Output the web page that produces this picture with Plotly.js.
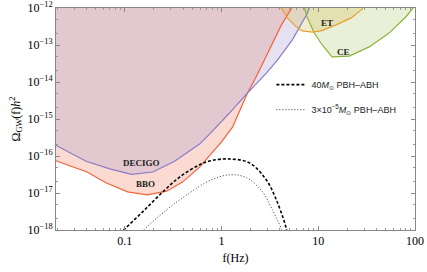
<!DOCTYPE html>
<html>
<head>
<meta charset="utf-8">
<script src="https://cdn.plot.ly/plotly-3.0.1.min.js"></script>
<style>html,body{margin:0;padding:0;background:#fff;}#chart{width:427px;height:272px;}</style>
</head>
<body>
<div id="chart"></div>
<script>
// Sensitivity curves (frequency in Hz, Omega_GW h^2)
var decigoF = [0.0178, 0.0200, 0.0398, 0.070, 0.117, 0.195, 0.327, 0.593, 0.752, 1.21, 1.85, 2.91, 3.78, 5.40, 7.71, 8.32];
var decigoOmega = [2.19e-16, 1.86e-16, 7.2e-17, 4.5e-17, 3.2e-17, 3.7e-17, 7.2e-17, 2.1e-16, 3.9e-16, 1.45e-15, 5.0e-15, 1.74e-14, 3.9e-14, 1.38e-13, 7.2e-13, 1.26e-12];

var bboF = [0.0178, 0.0200, 0.0407, 0.0646, 0.107, 0.170, 0.271, 0.398, 0.593, 0.807, 1.0, 1.30, 1.85, 2.29, 2.77, 4.16, 5.40, 5.75];
var bboOmega = [8.5e-17, 7.2e-17, 3.7e-17, 1.86e-17, 1.07e-17, 8.9e-18, 1.12e-17, 2.0e-17, 5.0e-17, 1.26e-16, 2.4e-16, 6.0e-16, 5.0e-15, 1.4e-14, 4.0e-14, 3.5e-13, 1.07e-12, 1.4e-12];

var etF = [3.98, 4.16, 4.79, 5.93, 6.84, 8.67, 10.7, 15.3, 21.9, 28.4, 30.2];
var etOmega = [1.26e-12, 1.0e-12, 5.4e-13, 3.1e-13, 2.4e-13, 2.24e-13, 2.4e-13, 3.5e-13, 5.4e-13, 9.3e-13, 1.26e-12];

var ceF = [7.08, 7.18, 7.71, 9.10, 11.0, 13.9, 20.9, 33.6, 54.0, 80.7, 95.5, 105];
var ceOmega = [1.26e-12, 1.0e-12, 5.4e-13, 2.1e-13, 1.0e-13, 4.8e-14, 5.0e-14, 8.9e-14, 2.1e-13, 5.8e-13, 1.0e-12, 1.26e-12];

// PBH-ABH signals
var pbh40F = [0.089, 0.100, 0.153, 0.247, 0.369, 0.593, 0.80, 1.21, 1.95, 2.91, 3.69, 4.46, 4.68, 4.79];
var pbh40Omega = [7.9e-19, 1.07e-18, 3.1e-18, 1.07e-17, 2.7e-17, 5.8e-17, 7.6e-17, 8.3e-17, 6.5e-17, 2.24e-17, 6.5e-18, 1.66e-18, 1.07e-18, 7.9e-19];

var pbhSmallF = [0.151, 0.161, 0.271, 0.437, 0.776, 1.21, 1.81, 2.65, 3.36, 4.16, 4.27];
var pbhSmallOmega = [8.9e-19, 1.07e-18, 3.5e-18, 8.9e-18, 2.24e-17, 3.1e-17, 2.6e-17, 1.07e-17, 3.5e-18, 1.07e-18, 8.9e-19];

var xTickVals = [0.1, 1, 10, 100];
var xTickText = ['0.1', '1', '10', '100'];
var yTickVals = [1e-18, 1e-17, 1e-16, 1e-15, 1e-14, 1e-13, 1e-12];
var yTickText = ['10<sup>\u221218</sup>', '10<sup>\u221217</sup>', '10<sup>\u221216</sup>', '10<sup>\u221215</sup>', '10<sup>\u221214</sup>', '10<sup>\u221213</sup>', '10<sup>\u221212</sup>'];

// Region closure just outside the visible area (top / left), so the shading reaches the frame
var OUT_TOP = 1.5e-12, OUT_LEFT = 0.017;
function closeTop(f, o, withLeft) {
  var xs = f.slice(), ys = o.slice();
  xs.push(f[f.length - 1]); ys.push(OUT_TOP);
  if (withLeft) {
    xs.push(OUT_LEFT); ys.push(OUT_TOP);
    xs.push(OUT_LEFT); ys.push(o[0]);
  } else {
    xs.push(f[0]); ys.push(OUT_TOP);
  }
  xs.push(f[0]); ys.push(o[0]);
  return {x: xs, y: ys};
}

var bbo = closeTop(bboF, bboOmega, true);
var dec = closeTop(decigoF, decigoOmega, true);
var et = closeTop(etF, etOmega, false);
var ce = closeTop(ceF, ceOmega, false);

function fillTrace(p, color) {
  return {x: p.x, y: p.y, mode: 'none', fill: 'toself', fillcolor: color, showlegend: false, hoverinfo: 'skip'};
}
function edgeTrace(f, o, color) {
  return {x: f, y: o, mode: 'lines', line: {color: color, width: 1.2}, showlegend: false, hoverinfo: 'skip'};
}

var traces = [
  fillTrace(bbo, 'rgba(240,110,70,0.25)'),
  fillTrace(dec, 'rgba(171,156,206,0.3)'),
  fillTrace(ce, 'rgba(140,180,60,0.2)'),
  fillTrace(et, 'rgba(210,180,60,0.25)'),
  edgeTrace(bboF, bboOmega, '#f0643c'),
  edgeTrace(decigoF, decigoOmega, '#8a7cc8'),
  edgeTrace(ceF, ceOmega, '#8cb43c'),
  edgeTrace(etF, etOmega, '#e8a030'),
  {x: pbh40F, y: pbh40Omega, mode: 'lines', name: '40<i>M</i><sub>\u2299</sub> PBH\u2013ABH',
   line: {color: '#000', width: 1.6, dash: '3px,2px', shape: 'spline'}, legendgroup: 'a'},
  {x: pbhSmallF, y: pbhSmallOmega, mode: 'lines', name: '3\u00d710<sup>\u22125</sup><i>M</i><sub>\u2299</sub> PBH\u2013ABH',
   line: {color: '#333', width: 1, dash: '1px,2px', shape: 'spline'}, legendgroup: 'b'}
];

var axisCommon = {
  type: 'log', showgrid: false, zeroline: false, showline: true, linecolor: '#888', linewidth: 1,
  mirror: 'allticks', ticks: 'inside', ticklen: 4, tickcolor: '#888', tickwidth: 1,
  tickfont: {family: 'Liberation Serif', size: 12, color: '#000'}
};

var layout = {
  width: 427, height: 272,
  margin: {l: 56, r: 12, t: 8, b: 42},
  paper_bgcolor: '#fff', plot_bgcolor: '#fff',
  xaxis: Object.assign({}, axisCommon, {
    range: [Math.log10(0.01945), 2], tickvals: xTickVals, ticktext: xTickText,
    minor: {ticks: 'inside', ticklen: 2, tickcolor: '#999', showgrid: false, tickvals: [0.02,0.03,0.04,0.05,0.06,0.07,0.08,0.09,0.2,0.3,0.4,0.5,0.6,0.7,0.8,0.9,2,3,4,5,6,7,8,9,20,30,40,50,60,70,80,90]},
    title: {text: 'f(Hz)', font: {family: 'Liberation Serif', size: 12, color: '#000'}, standoff: 6}
  }),
  yaxis: Object.assign({}, axisCommon, {
    range: [-18, -12], tickvals: yTickVals, ticktext: yTickText,
    minor: {ticks: 'inside', ticklen: 2, tickcolor: '#999', showgrid: false},
    title: {text: '\u03a9<sub>GW</sub>(f)<i>h</i><sup>2</sup>', font: {family: 'Liberation Serif', size: 12, color: '#000'}, standoff: 4}
  }),
  showlegend: true,
  legend: {x: 0.6, y: 0.72, xanchor: 'left', yanchor: 'top', bgcolor: 'rgba(0,0,0,0)',
    font: {family: 'Liberation Sans', size: 9, color: '#222'}, tracegroupgap: 6, itemwidth: 30},
  annotations: [
    {x: Math.log10(0.149), y: Math.log10(6.5e-17), text: '<b>DECIGO</b>', showarrow: false, font: {family: 'Liberation Serif', size: 9, color: '#222'}},
    {x: Math.log10(0.164), y: Math.log10(1.74e-17), text: '<b>BBO</b>', showarrow: false, font: {family: 'Liberation Serif', size: 9, color: '#222'}},
    {x: Math.log10(12.4), y: Math.log10(3.9e-13), text: '<b>ET</b>', showarrow: false, font: {family: 'Liberation Serif', size: 9, color: '#222'}},
    {x: Math.log10(18.1), y: Math.log10(6.5e-14), text: '<b>CE</b>', showarrow: false, font: {family: 'Liberation Serif', size: 9, color: '#222'}}
  ]
};

Plotly.newPlot('chart', traces, layout, {displayModeBar: false, staticPlot: true});
</script>
</body>
</html>
